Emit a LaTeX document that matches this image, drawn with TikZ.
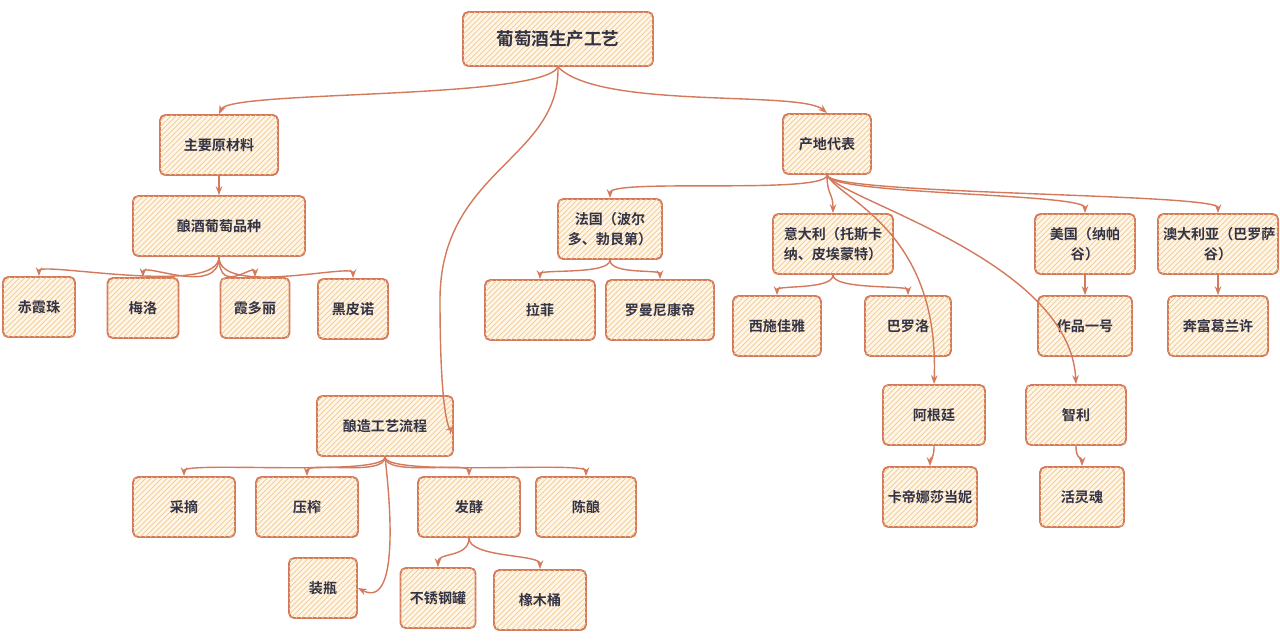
\documentclass[tikz,border=0pt]{standalone}
\usepackage{fontspec}
\newfontfamily\cjk{Noto Sans CJK SC}[BoldFont={* Bold}]
\usetikzlibrary{patterns,arrows.meta}
\definecolor{edgeorange}{HTML}{D4795B}
\definecolor{hatch}{HTML}{F2C98A}
\definecolor{boxbg}{HTML}{FEF6EA}
\definecolor{ink}{HTML}{333344}

\begin{document}
\begin{tikzpicture}[x=0.02cm,y=-0.02cm,
    box/.style={draw=edgeorange,line width=1.1pt,rounded corners=3pt,
        fill=boxbg,postaction={pattern=north east lines,pattern color=hatch},
        text=ink,font=\cjk\bfseries\fontsize{8}{11}\selectfont,
        align=center,minimum height=1.2cm,inner sep=2pt},
    link/.style={draw=edgeorange,line width=0.8pt,-{Stealth[length=5pt,open]}}]

        \useasboundingbox (0,0) rectangle (1280,640);

        \node[box,minimum width=3.8cm,minimum height=1.08cm,
              font=\cjk\bfseries\fontsize{10}{12}\selectfont] (root) at (558,39) {葡萄酒生产工艺};

        \node[box,minimum width=2.36cm] (mat)   at (219,145) {主要原材料};
        \node[box,minimum width=3.44cm] (var)   at (219,226) {酿酒葡萄品种};
        \node[box,minimum width=1.44cm] (cab)   at (39,307)  {赤霞珠};
        \node[box,minimum width=1.42cm] (mer)   at (143,308) {梅洛};
        \node[box,minimum width=1.38cm] (cha)   at (255,308) {霞多丽};
        \node[box,minimum width=1.4cm]  (pin)   at (353,309) {黑皮诺};

        \node[box,minimum width=2.72cm] (proc)  at (385,426) {酿造工艺流程};
        \node[box,minimum width=2.04cm] (pick)  at (184,507) {采摘};
        \node[box,minimum width=2.04cm] (press) at (307,507) {压榨};
        \node[box,minimum width=2.04cm] (ferm)  at (469,507) {发酵};
        \node[box,minimum width=2cm]    (age)   at (586,507) {陈酿};
        \node[box,minimum width=1.36cm] (bott)  at (323,588) {装瓶};
        \node[box,minimum width=1.5cm]  (steel) at (438,598) {不锈钢罐};
        \node[box,minimum width=1.84cm] (oak)   at (540,600) {橡木桶};

        \node[box,minimum width=1.76cm] (reg)   at (827,144) {产地代表};
        \node[box,minimum width=2.08cm,text width=1.9cm] (fr) at (610,229) {法国（波尔\\多、勃艮第）};
        \node[box,minimum width=2.4cm,text width=2.2cm]  (it) at (833,244) {意大利（托斯卡\\纳、皮埃蒙特）};
        \node[box,minimum width=2cm,text width=1.8cm]    (us) at (1085,244) {美国（纳帕\\谷）};
        \node[box,minimum width=2.4cm,text width=2.2cm]  (au) at (1218,244) {澳大利亚（巴罗萨\\谷）};
        \node[box,minimum width=2.2cm]  (laf)   at (540,310) {拉菲};
        \node[box,minimum width=2.16cm] (rom)   at (660,310) {罗曼尼康帝};
        \node[box,minimum width=1.76cm] (sas)   at (777,326) {西施佳雅};
        \node[box,minimum width=1.72cm] (bar)   at (908,326) {巴罗洛};
        \node[box,minimum width=1.88cm] (opus)  at (1085,326) {作品一号};
        \node[box,minimum width=2cm]    (gra)   at (1218,326) {奔富葛兰许};
        \node[box,minimum width=2.04cm] (arg)   at (934,415) {阿根廷};
        \node[box,minimum width=2cm]    (chi)   at (1076,415) {智利};
        \node[box,minimum width=1.88cm] (cat)   at (930,497) {卡帝娜莎当妮};
        \node[box,minimum width=1.68cm] (alma)  at (1082,497) {活灵魂};

        \draw[link] (root.south) .. controls (540,100) and (230,90) .. (mat.north);
        \draw[link] (root.south) .. controls (600,110) and (800,90) .. (reg.north);
        \draw[link] (root.south) .. controls (560,160) and (440,170) .. (440,300)
                                .. controls (440,420) and (450,430) .. (proc.east);

        \draw[link] (mat.south) -- (var.north);
        \foreach \c in {cab,mer,cha,pin}
            \draw[link] (var.south) .. controls +(0,40) and +(0,-15) .. (\c.north);

        \foreach \c in {pick,press,ferm,age}
            \draw[link] (proc.south) .. controls +(0,20) and +(0,-15) .. (\c.north);
        \draw[link] (proc.south) .. controls (390,500) and (400,610) .. (bott.east);
        \foreach \c in {steel,oak}
            \draw[link] (ferm.south) .. controls +(0,20) and +(0,-15) .. (\c.north);

        \foreach \c in {fr,it,us,au}
            \draw[link] (reg.south) .. controls +(0,20) and +(0,-20) .. (\c.north);
        \draw[link] (reg.south) .. controls (840,200) and (940,230) .. (arg.north);
        \draw[link] (reg.south) .. controls (840,200) and (1070,260) .. (chi.north);
        \foreach \a/\b in {fr/laf,fr/rom,it/sas,it/bar,us/opus,au/gra,arg/cat,chi/alma}
            \draw[link] (\a.south) .. controls +(0,15) and +(0,-10) .. (\b.north);

\end{tikzpicture}
\end{document}
